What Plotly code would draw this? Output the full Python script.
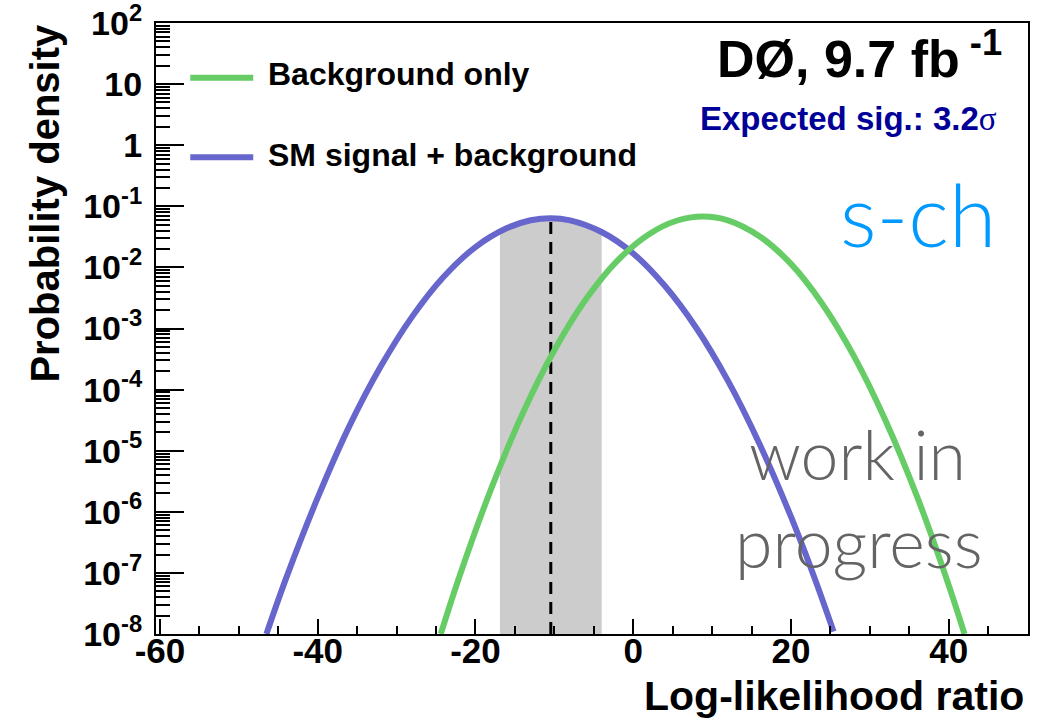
import plotly.graph_objects as go

# Log-likelihood ratio distributions (probability density per unit LLR)
bkg_llr = [-24.4, -22, -18, -14, -10, -6, -2, 2, 5.5, 8.8, 12, 16, 20, 24, 28, 32, 36, 40, 42]
bkg_density = [1.0e-8, 9.0e-8, 2.4e-6, 4.1e-5, 4.4e-4, 3.0e-3, 1.29e-2, 3.5e-2, 5.8e-2, 6.8e-2,
               5.9e-2, 3.24e-2, 1.14e-2, 2.5e-3, 3.5e-4, 3.1e-5, 1.76e-6, 6.3e-8, 1.0e-8]

sb_llr = [-46.5, -44, -40, -36, -32, -28, -24, -20, -16, -13, -10.5, -8, -4, 0, 4, 8, 12, 16, 20, 23, 25.4]
sb_density = [1.0e-8, 8.2e-8, 1.7e-6, 2.5e-5, 2.4e-4, 1.58e-3, 7.1e-3, 2.15e-2, 4.4e-2, 5.9e-2, 6.4e-2,
              5.9e-2, 3.8e-2, 1.69e-2, 5.0e-3, 1.02e-3, 1.4e-4, 1.3e-5, 8.3e-7, 8.2e-8, 1.1e-8]

# Median expected s+b LLR and its +-1 sigma region under the s+b curve
sb_median = -10.45
sb_median_density = 0.064
band_llr = [-16.9, -16, -13, -10.5, -8, -4.0]
band_density = [0.039, 0.044, 0.059, 0.064, 0.059, 0.0384]

x_ticks = [-60, -40, -20, 0, 20, 40]
y_exponents = list(range(-8, 3))

GREEN = "#66cc66"
BLUE = "#6666cc"
BAND = "#cccccc"
NAVY = "#000099"

W, H = 1046, 722
L, R, T, B = 155.7, 1028.3, 23.3, 634.0


def px_x(px):
    return (px - L) / (R - L)


def px_y(py):
    return (B - py) / (B - T)


y_floor = 1e-8
fig = go.Figure()

fig.add_trace(go.Scatter(
    x=[band_llr[0]] + band_llr + [band_llr[-1]],
    y=[y_floor] + band_density + [y_floor],
    fill="toself", fillcolor=BAND, mode="lines", line=dict(width=0, color=BAND),
    hoverinfo="skip", showlegend=False,
))
fig.add_trace(go.Scatter(
    x=[sb_median, sb_median], y=[y_floor, sb_median_density],
    mode="lines", line=dict(color="black", width=3, dash="12px,8px"),
    showlegend=False,
))
fig.add_trace(go.Scatter(
    x=sb_llr, y=sb_density, mode="lines", line=dict(color=BLUE, width=6, shape="spline"),
    name="SM signal + background", showlegend=False,
))
fig.add_trace(go.Scatter(
    x=bkg_llr, y=bkg_density, mode="lines", line=dict(color=GREEN, width=6, shape="spline"),
    name="Background only", showlegend=False,
))

bold = dict(family="Liberation Sans", color="black", weight="bold")

fig.update_xaxes(
    range=[-60.5, 50.05], showline=True, linecolor="black", linewidth=2, mirror=True,
    tickmode="array", tickvals=x_ticks, ticktext=[str(v) for v in x_ticks],
    ticks="inside", ticklen=15, tickwidth=2, tickcolor="black",
    minor=dict(tickmode="linear", tick0=0, dtick=5, ticks="inside", ticklen=8,
               tickwidth=2, tickcolor="black", showgrid=False),
    tickfont=dict(size=35, **bold), showgrid=False, zeroline=False,
    ticklabelstandoff=-15, ticklabeloverflow="allow", automargin=False,
)

y_text = []
for e in y_exponents:
    if e == 0:
        y_text.append("1")
    elif e == 1:
        y_text.append("10")
    else:
        y_text.append(f"10<sup>{e}</sup>")

fig.update_yaxes(
    type="log", range=[-8, 2], showline=True, linecolor="black", linewidth=2, mirror=True,
    tickmode="array", tickvals=[10.0 ** e for e in y_exponents], ticktext=y_text,
    ticks="inside", ticklen=28, tickwidth=2, tickcolor="black",
    minor=dict(tickmode="array",
               tickvals=[m * 10.0 ** e for e in range(-8, 2) for m in range(2, 10)],
               ticks="inside", ticklen=14, tickwidth=2, tickcolor="black", showgrid=False),
    tickfont=dict(size=34, **bold), showgrid=False, zeroline=False,
    ticklabelstandoff=5, ticklabeloverflow="allow", automargin=False,
)

annotations = [
    dict(text="Log-likelihood ratio", x=px_x(1026), y=px_y(696), xanchor="right", yanchor="middle",
         font=dict(size=41, **bold)),
    dict(text="Probability density", x=px_x(45), y=px_y(22), xanchor="center", yanchor="top",
         textangle=-90, font=dict(size=40, **bold)),
    dict(text="Background only", x=px_x(266), y=px_y(74), xanchor="left", yanchor="middle",
         font=dict(size=32, **bold)),
    dict(text="SM signal + background", x=px_x(266), y=px_y(155), xanchor="left", yanchor="middle",
         font=dict(size=32, **bold)),
    dict(text="DØ, 9.7 fb<sup> -1</sup>", x=px_x(1004), y=px_y(55), xanchor="right", yanchor="middle",
         font=dict(size=52, **bold)),
    dict(text="Expected sig.: 3.2<span style=\"font-family:'Liberation Serif';font-weight:normal\">σ</span>",
         x=px_x(999), y=px_y(119), xanchor="right", yanchor="middle",
         font=dict(size=33, family="Liberation Sans", color=NAVY, weight="bold")),
    dict(text="s-ch", x=px_x(998), y=px_y(214), xanchor="right", yanchor="middle",
         font=dict(size=86, family="Lato", color="#0099ff", weight=300)),
    dict(text="work in", x=px_x(858), y=px_y(454), xanchor="center", yanchor="middle",
         font=dict(size=68, family="Lato", color="#646464", weight=300)),
    dict(text="progress", x=px_x(859), y=px_y(542), xanchor="center", yanchor="middle",
         font=dict(size=68, family="Lato", color="#646464", weight=300)),
]
for a in annotations:
    a.update(xref="paper", yref="paper", showarrow=False)

shapes = [
    dict(type="line", x0=px_x(190), x1=px_x(253), y0=px_y(78), y1=px_y(78),
         line=dict(color=GREEN, width=6)),
    dict(type="line", x0=px_x(190), x1=px_x(253), y0=px_y(157.5), y1=px_y(157.5),
         line=dict(color=BLUE, width=6)),
]
for s in shapes:
    s.update(xref="paper", yref="paper")

fig.update_layout(
    width=W, height=H, autosize=False,
    margin=dict(l=L, r=W - R, t=T, b=H - B, pad=0, autoexpand=False),
    paper_bgcolor="white", plot_bgcolor="white",
    showlegend=False, annotations=annotations, shapes=shapes,
)

fig.write_html("out.html")
